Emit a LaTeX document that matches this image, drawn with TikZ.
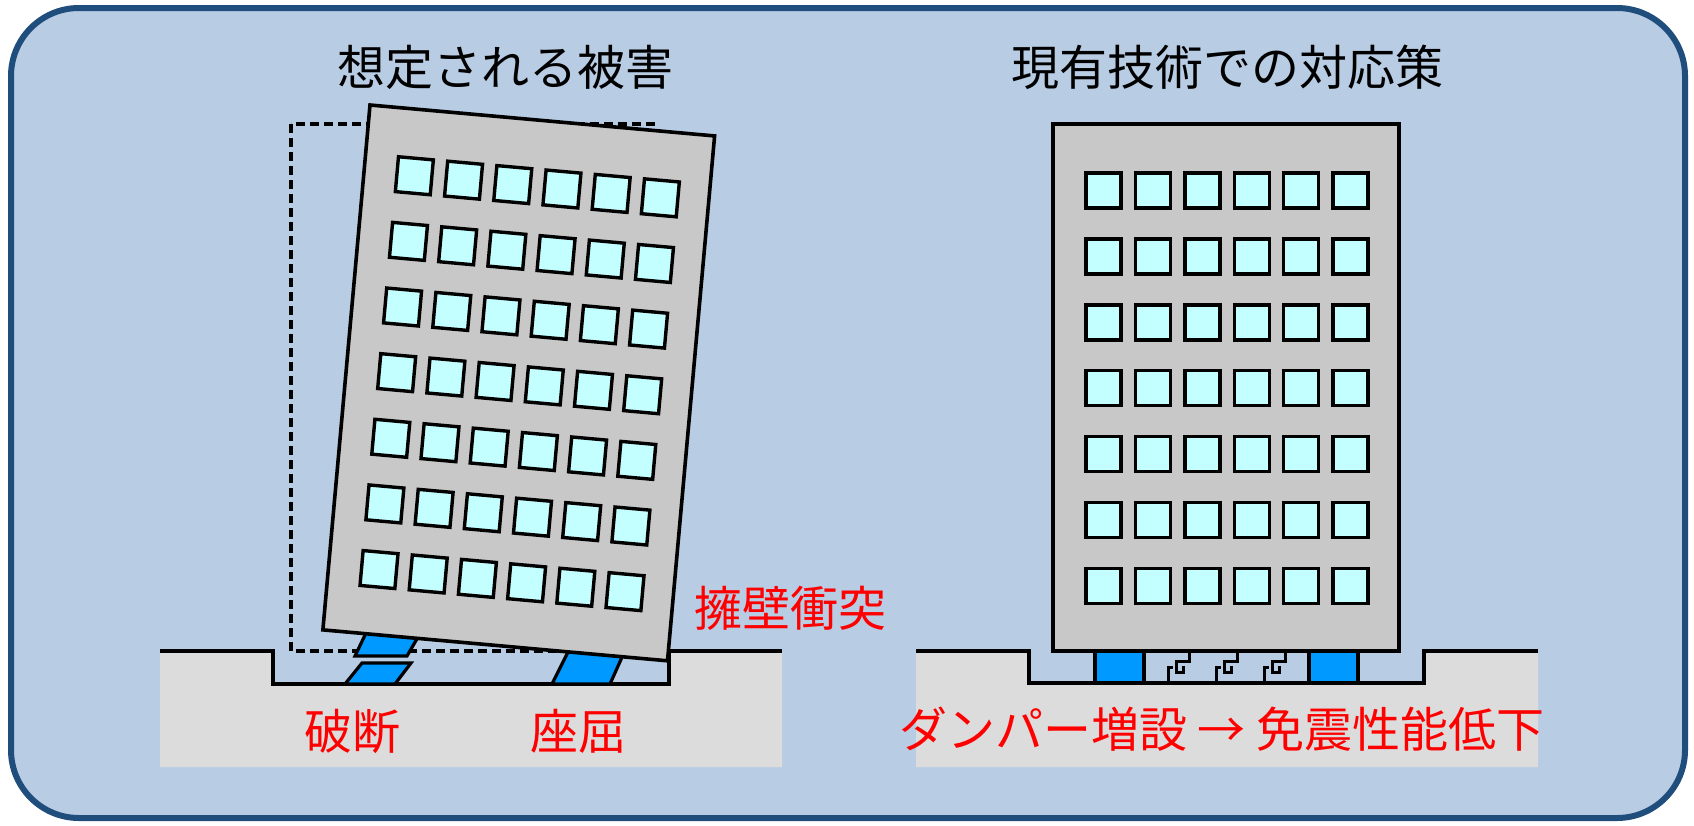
\documentclass[tikz,border=0pt]{standalone}
\usepackage{fontspec}
\newfontfamily\jpfont{Noto Sans CJK JP}
\definecolor{panelfill}{HTML}{B8CCE4}
\definecolor{panelline}{HTML}{1F4E7D}
\definecolor{bldggray}{HTML}{C8C8C8}
\definecolor{wincyan}{HTML}{C4FFFF}
\definecolor{groundgray}{HTML}{DCDCDC}
\definecolor{damperblue}{HTML}{0099FF}
\tikzset{
  panel/.style={draw=panelline, line width=6pt, fill=panelfill, rounded corners=68pt},
  bldg/.style={draw=black, line width=3.6pt, fill=bldggray},
  win/.style={draw=black, line width=3.4pt, fill=wincyan},
  ground/.style={fill=groundgray, draw=none},
  groundline/.style={draw=black, line width=3.4pt},
  origin/.style={draw=black, line width=3.4pt, dash pattern=on 9pt off 5pt},
  damper/.style={draw=black, line width=3.2pt, fill=damperblue, line join=miter},
  hook/.style={draw=black, line width=3pt},
  title/.style={font=\jpfont\fontsize{48}{58}\selectfont, text=black, anchor=base, inner sep=0pt},
  note/.style={font=\jpfont\fontsize{48}{58}\selectfont, text=red, anchor=base, inner sep=0pt},
}
% a building: 346 x 527 with a 6 x 7 grid of windows, origin at its top-left corner
\newcommand\drawtower{%
  \draw[bldg] (0,0) rectangle (346,527);
  \foreach \i in {0,...,5}
    \foreach \j in {0,...,6}
      \draw[win] ({33+49.4*\i},{49+65.9*\j}) rectangle +(35,35);
}
% a pair of interlocking steel hooks hanging between building and pit floor
\newcommand\drawhook[1]{%
  \draw[hook] (#1,651) -- (#1,661) -- ({#1-13},661) -- ({#1-13},672) -- ({#1-6},672) -- ({#1-6},666);
  \draw[hook] ({#1-21},684) -- ({#1-21},667) -- ({#1-16},667);
}
\begin{document}
\begin{tikzpicture}[x=1pt,y=-1pt]
\useasboundingbox (0,0) rectangle (1694,825);
\fill[white] (0,0) rectangle (1694,825);
\draw[panel] (11,8) rectangle (1685,818);

% ---------- left: expected damage ----------
\node[title] (t1) at (505,85) {想定される被害};

\fill[ground] (160,651) -- (273,651) -- (273,684) -- (669,684) -- (669,651) -- (782,651)
  -- (782,767) -- (160,767) -- cycle;
\draw[groundline] (160,651) -- (273,651) -- (273,684) -- (669,684) -- (669,651) -- (782,651);

% original position of the building
\draw[origin] (291,124) rectangle (653,651);

% broken isolator (two pieces) and buckled isolator
\draw[damper] (366,633) -- (418,637) -- (407,656) -- (355,656) -- cycle;
\draw[damper] (362,663) -- (411,663) -- (395,684) -- (345,684) -- cycle;
\draw[damper] (569,650) -- (623,655) -- (610,684) -- (552,684) -- cycle;

% tilted building
\begin{scope}[shift={(370,105)}, rotate=-5.13]
  \drawtower
\end{scope}

\node[note] (n1) at (790,626) {擁壁衝突};
\node[note] (n2) at (352,749) {破断};
\node[note] (n3) at (578,749) {座屈};

% ---------- right: current countermeasure ----------
\node[title] (t2) at (1227,85) {現有技術での対応策};

\fill[ground] (916,651) -- (1029,651) -- (1029,683) -- (1424,683) -- (1424,651) -- (1538,651)
  -- (1538,767) -- (916,767) -- cycle;
\draw[groundline] (916,651) -- (1029,651) -- (1029,683) -- (1424,683) -- (1424,651) -- (1538,651);

\begin{scope}[shift={(1053,124)}]
  \drawtower
\end{scope}

\draw[damper] (1095,651) rectangle (1144,683);
\draw[damper] (1309,651) rectangle (1358,683);
\drawhook{1189}
\drawhook{1237}
\drawhook{1285}

\node[note] (n4) at (1222,747) {ダンパー増設 → 免震性能低下};
\end{tikzpicture}
\end{document}
